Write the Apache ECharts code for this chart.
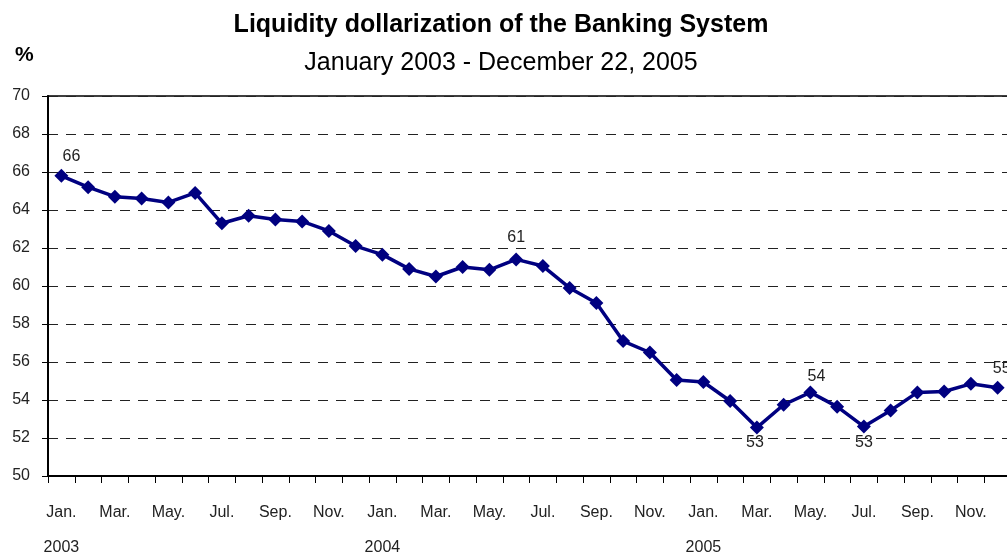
<!DOCTYPE html>
<html>
<head>
<meta charset="utf-8">
<script src="https://cdn.jsdelivr.net/npm/echarts@6/dist/echarts.min.js"></script>
<style>
  html, body { margin: 0; padding: 0; background: #fff; }
  #chart { width: 1007px; height: 555px; }
</style>
</head>
<body>
<div id="chart"></div>
<script>
// Monthly share of dollar-denominated liquidity, Jan 2003 - Dec 2005 (%)
const months = ['Jan.','Feb.','Mar.','Apr.','May.','Jun.','Jul.','Aug.','Sep.','Oct.','Nov.','Dec.'];
const years = ['2003', '2004', '2005'];
const values = [
  65.8, 65.2, 64.7, 64.6, 64.4, 64.9, 63.3, 63.7, 63.5, 63.4, 62.9, 62.1,
  61.65, 60.9, 60.5, 61.0, 60.85, 61.4, 61.05, 59.9, 59.1, 57.1, 56.5, 55.05,
  54.95, 53.95, 52.55, 53.75, 54.4, 53.65, 52.6, 53.45, 54.4, 54.45, 54.85, 54.65
];
// Indices of the points annotated with their value
const labelledPoints = [0, 17, 26, 28, 30, 35];
const yTicks = { min: 50, max: 70, step: 2 };

// Placement of each value annotation
const labelPlacement = {
  0:  { position: 'top', distance: 4, offset: [10, 0] },
  17: { position: 'top', distance: 7, offset: [0, 0] },
  26: { position: 'bottom', distance: 0, offset: [-2, 0] },
  28: { position: 'top', distance: 1, offset: [6, 0] },
  30: { position: 'bottom', distance: 1, offset: [0, 0] },
  35: { position: 'top', distance: 4, offset: [4, 0] }
};

const categories = [];
years.forEach(y => months.forEach(m => categories.push(m + '|' + y)));

const sans = '"Liberation Sans", Arial, sans-serif';

const seriesData = values.map((v, i) => {
  if (!labelledPoints.includes(i)) return v;
  const pl = labelPlacement[i];
  return {
    value: v,
    label: {
      show: true,
      position: pl.position,
      distance: pl.distance,
      offset: pl.offset,
      formatter: p => String(Math.round(p.value)),
      fontFamily: sans,
      fontSize: 16,
      color: '#222'
    }
  };
});

const chart = echarts.init(document.getElementById('chart'), null, { renderer: 'canvas' });

chart.setOption({
  animation: false,
  backgroundColor: '#fff',
  title: [
    {
      text: 'Liquidity dollarization of the Banking System',
      left: 496, top: 8, textAlign: 'center',
      textStyle: { fontFamily: sans, fontWeight: 'bold', fontSize: 25, color: '#000' }
    },
    {
      text: 'January 2003 - December 22, 2005',
      left: 496, top: 46, textAlign: 'center',
      textStyle: { fontFamily: sans, fontWeight: 'normal', fontSize: 25, color: '#000' }
    },
    {
      text: '%',
      left: 10, top: 40,
      textStyle: { fontFamily: sans, fontWeight: 'bold', fontSize: 21, color: '#000' }
    }
  ],
  grid: {
    left: 48, top: 96, width: 963, height: 380,
    containLabel: false,
    outerBoundsMode: 'none',
    show: true, borderColor: '#000', borderWidth: 1.5, backgroundColor: 'transparent'
  },
  xAxis: {
    type: 'category',
    data: categories,
    boundaryGap: true,
    axisLine: { show: true, lineStyle: { color: '#000', width: 2 } },
    axisTick: { show: true, interval: 0, length: 7, lineStyle: { color: '#000', width: 1 } },
    axisLabel: {
      interval: 1,
      margin: 19,
      fontFamily: sans,
      fontSize: 16,
      color: '#222',
      lineHeight: 35,
      formatter: v => {
        const [m, y] = v.split('|');
        return m === 'Jan.' ? m + '\n' + y : m + '\n ';
      }
    },
    splitLine: { show: false }
  },
  yAxis: {
    type: 'value',
    min: yTicks.min, max: yTicks.max, interval: yTicks.step,
    axisLine: { show: true, lineStyle: { color: '#000', width: 2 } },
    axisTick: { show: true, length: 6, lineStyle: { color: '#000', width: 1 } },
    axisLabel: { margin: 18, fontFamily: sans, fontSize: 16, color: '#222' },
    splitLine: { show: true, lineStyle: { color: '#222', width: 1, type: [10, 8] } }
  },
  series: [{
    type: 'line',
    data: seriesData,
    symbol: 'diamond',
    symbolSize: 14,
    lineStyle: { color: '#000080', width: 3.5 },
    itemStyle: { color: '#000080' },
    z: 5
  }]
});
</script>
</body>
</html>
